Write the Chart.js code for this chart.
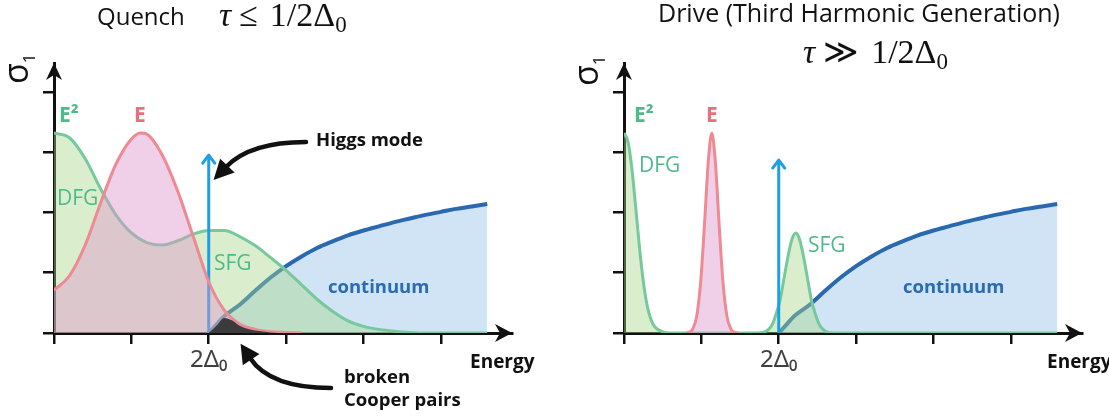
<!DOCTYPE html>
<html>
<head>
<meta charset="utf-8">
<script src="https://cdn.jsdelivr.net/npm/chart.js@4.4.1/dist/chart.umd.min.js"></script>
<style>
  html, body { margin: 0; padding: 0; background: #fff; }
  #wrap { position: relative; width: 1109px; height: 417px; }
  canvas { position: absolute; top: 0; }
</style>
</head>
<body>
<div id="wrap">
  <canvas id="quench" width="555" height="417" style="left:0"></canvas>
  <canvas id="drive" width="554" height="417" style="left:555px"></canvas>
</div>
<script>
// energy in units of Δ0 (2Δ0 = 2), σ1 in arbitrary units
const X_MAX = 5.92;
const Y_MAX = 4.48;
const GAP = 2;

// quasiparticle continuum above the gap (same in both panels)
const continuumX = [2.0, 2.1, 2.2, 2.4, 2.6, 2.8, 3.0, 3.2, 3.4, 3.6, 3.8, 4.0, 4.2, 4.4, 4.6, 4.8, 5.0, 5.2, 5.4, 5.6];
const continuumY = [0, 0.14, 0.28, 0.47, 0.7, 0.92, 1.11, 1.27, 1.41, 1.52, 1.62, 1.7, 1.77, 1.84, 1.9, 1.96, 2.01, 2.06, 2.1, 2.14];

// quench: broad pump spectrum E and its square E²
const quenchEX = [0, 0.2, 0.4, 0.6, 0.8, 1.0, 1.12, 1.2, 1.4, 1.6, 1.8, 2.0, 2.2, 2.4, 2.6, 2.8, 3.0, 3.2];
const quenchEY = [0.71, 0.95, 1.45, 2.15, 2.8, 3.22, 3.32, 3.3, 2.95, 2.35, 1.6, 0.85, 0.38, 0.15, 0.06, 0.02, 0.01, 0];
const quenchE2X = [0, 0.2, 0.4, 0.6, 0.8, 1.0, 1.2, 1.4, 1.6, 1.8, 2.0, 2.2, 2.4, 2.6, 2.8, 3.0, 3.2, 3.4, 3.6, 3.8, 4.0, 4.2, 4.4, 4.6, 4.8, 5.2, 5.6];
const quenchE2Y = [3.32, 3.24, 2.9, 2.4, 1.96, 1.66, 1.5, 1.46, 1.53, 1.64, 1.7, 1.7, 1.6, 1.45, 1.25, 1.04, 0.8, 0.56, 0.36, 0.2, 0.11, 0.06, 0.03, 0.01, 0, 0, 0];
// broken Cooper pairs just above 2Δ0
const pairsX = [2.0, 2.1, 2.2, 2.3, 2.4, 2.5, 2.6, 2.8, 3.0];
const pairsY = [0, 0.12, 0.25, 0.21, 0.12, 0.07, 0.04, 0.01, 0];
const quenchHiggsTop = 2.95;

// drive: narrow E line and E² (DFG at 0, SFG at 2ω)
const driveEX = [0.8, 0.84, 0.89, 0.94, 0.99, 1.04, 1.09, 1.135, 1.18, 1.23, 1.28, 1.33, 1.38, 1.43, 1.48];
const driveEY = [0, 0.01, 0.07, 0.28, 0.83, 1.79, 2.85, 3.32, 2.85, 1.79, 0.83, 0.28, 0.07, 0.01, 0];
const driveE2X = [0, 0.05, 0.1, 0.15, 0.2, 0.25, 0.3, 0.35, 0.4, 0.5, 0.6, 1.7, 1.82, 1.92, 1.97, 2.02, 2.07, 2.12, 2.17, 2.22, 2.27, 2.32, 2.37, 2.42, 2.47, 2.52, 2.62, 2.72, 5.6];
const driveE2Y = [3.32, 3.18, 2.75, 2.1, 1.42, 0.85, 0.45, 0.22, 0.1, 0.02, 0, 0, 0.02, 0.15, 0.33, 0.56, 0.92, 1.27, 1.55, 1.66, 1.55, 1.27, 0.92, 0.56, 0.33, 0.15, 0.02, 0, 0];
const driveHiggsTop = 2.87;

const GREEN_LINE = '#76c99d';
const GREEN_FILL = 'rgba(168,214,135,0.42)';
const PINK_LINE = '#ee8a93';
const PINK_FILL = 'rgba(222,150,205,0.45)';
const BLUE_LINE = '#2a69b0';
const BLUE_FILL = 'rgba(170,205,237,0.55)';
const HIGGS = '#1d9fe3';
const INK = '#111';

const pts = (xs, ys) => xs.map((x, i) => ({ x: x, y: ys[i] }));

function curveSet(xs, ys, line, fill, width, order) {
  return {
    data: pts(xs, ys),
    borderColor: line,
    backgroundColor: fill,
    borderWidth: width,
    fill: 'origin',
    cubicInterpolationMode: 'monotone',
    order: order
  };
}

function higgsSet(top) {
  return {
    data: [{ x: GAP, y: 0 }, { x: GAP, y: top }],
    borderColor: HIGGS,
    borderWidth: 3,
    fill: false,
    order: 2,
    higgs: true
  };
}

// rich text: list of parts drawn one after another on a baseline
function drawParts(ctx, item) {
  let x = item.x;
  ctx.fillStyle = item.color || INK;
  ctx.textAlign = 'left';
  ctx.textBaseline = 'alphabetic';
  item.parts.forEach(p => {
    ctx.font = p.font;
    ctx.fillText(p.t, x, item.y + (p.dy || 0));
    x += ctx.measureText(p.t).width + (p.gap || 0);
  });
}

function curveArrow(ctx, a) {
  const [x0, y0] = a.from, [cx, cy] = a.ctrl, [x1, y1] = a.to;
  ctx.strokeStyle = INK;
  ctx.fillStyle = INK;
  ctx.lineWidth = 4.5;
  ctx.lineCap = 'round';
  ctx.beginPath();
  ctx.moveTo(x0, y0);
  ctx.quadraticCurveTo(cx, cy, x1, y1);
  ctx.stroke();
  let dx = x1 - cx, dy = y1 - cy;
  const len = Math.hypot(dx, dy);
  dx /= len; dy /= len;
  ctx.beginPath();
  ctx.moveTo(x1 + dx * a.head, y1 + dy * a.head);
  ctx.lineTo(x1 - dy * 10 - dx * 2, y1 + dx * 10 - dy * 2);
  ctx.lineTo(x1 + dy * 10 - dx * 2, y1 - dx * 10 - dy * 2);
  ctx.closePath();
  ctx.fill();
}

const decor = {
  id: 'decor',
  afterDraw(chart, args, opts) {
    const ctx = chart.ctx;
    const { left, right, top, bottom } = chart.chartArea;
    ctx.save();

    // axis arrowheads
    ctx.fillStyle = INK;
    ctx.beginPath();
    ctx.moveTo(right, bottom);
    ctx.lineTo(right - 17, bottom - 9);
    ctx.lineTo(right - 12, bottom);
    ctx.lineTo(right - 17, bottom + 9);
    ctx.closePath();
    ctx.fill();
    ctx.beginPath();
    ctx.moveTo(left, top);
    ctx.lineTo(left - 8, top + 17);
    ctx.lineTo(left, top + 12);
    ctx.lineTo(left + 8, top + 17);
    ctx.closePath();
    ctx.fill();

    // chevron on the Higgs line
    chart.data.datasets.forEach((ds, i) => {
      if (!ds.higgs) return;
      const tip = chart.getDatasetMeta(i).data[1];
      ctx.strokeStyle = HIGGS;
      ctx.lineWidth = 3;
      ctx.lineCap = 'round';
      ctx.lineJoin = 'round';
      ctx.beginPath();
      ctx.moveTo(tip.x - 6, tip.y + 8);
      ctx.lineTo(tip.x, tip.y);
      ctx.lineTo(tip.x + 6, tip.y + 8);
      ctx.stroke();
    });

    // y axis title σ1, rotated
    const s = opts.sigma;
    ctx.save();
    ctx.translate(s.x, s.y);
    ctx.rotate(-Math.PI / 2);
    ctx.fillStyle = INK;
    ctx.textBaseline = 'alphabetic';
    ctx.font = '34px "Open Sans"';
    ctx.fillText('σ', 0, 0);
    const w = ctx.measureText('σ').width;
    ctx.font = '17px "Open Sans"';
    ctx.fillText('1', w, 7);
    ctx.restore();

    (opts.texts || []).forEach(t => drawParts(ctx, t));
    (opts.arrows || []).forEach(a => curveArrow(ctx, a));
    ctx.restore();
  }
};

const axisGrid = { drawOnChartArea: false, drawTicks: true, tickLength: 11, color: INK, lineWidth: 2.5 };
const axisBorder = { display: true, color: INK, width: 3 };

function panel(id, datasets, axisLeft, padRight, decorOpts) {
  return new Chart(document.getElementById(id), {
    type: 'line',
    data: { datasets: datasets },
    options: {
      responsive: false,
      animation: false,
      layout: { padding: { top: 63, right: padRight, left: 0, bottom: 0 } },
      elements: { point: { radius: 0 }, line: { borderJoinStyle: 'round' } },
      plugins: {
        legend: { display: false },
        tooltip: { enabled: false },
        decor: decorOpts
      },
      scales: {
        x: {
          type: 'linear', min: 0, max: X_MAX,
          afterFit: sc => { sc.height = 84; },
          grid: axisGrid,
          border: axisBorder,
          ticks: {
            stepSize: 1, includeBounds: false, autoSkip: false, maxRotation: 0,
            padding: 2, color: '#404040',
            font: { family: '"Noto Sans", "DejaVu Sans"', size: 24 },
            callback: v => (v === GAP ? '2Δ₀' : '')
          }
        },
        y: {
          type: 'linear', min: 0, max: Y_MAX,
          afterFit: sc => { sc.width = axisLeft; },
          grid: axisGrid,
          border: axisBorder,
          ticks: { stepSize: 1, includeBounds: false, callback: () => '' }
        }
      }
    },
    plugins: [decor]
  });
}

const bold = size => 'bold ' + size + 'px "Open Sans"';
const reg = size => size + 'px "Open Sans"';
const serif = size => size + 'px "Liberation Serif", "DejaVu Serif"';
const serifIt = size => 'italic ' + size + 'px "Liberation Serif", "DejaVu Serif"';
const GREEN_TEXT = '#4dba8a';
const PINK_TEXT = '#ea6f7c';
const BLUE_TEXT = '#2a6cb3';

// τ relation to 1/2Δ0, drawn as serif math
const mathParts = rel => [
  { t: 'τ', font: serifIt(34), gap: 8 },
  { t: rel, font: serif(34), gap: 12 },
  { t: '1/2Δ', font: serif(34) },
  { t: '0', font: serif(23), dy: 6 }
];

panel('quench', [
  { data: pts(pairsX, pairsY), borderWidth: 0, backgroundColor: '#3b3b3b', fill: 'origin', cubicInterpolationMode: 'monotone', order: 0 },
  curveSet(quenchEX, quenchEY, PINK_LINE, PINK_FILL, 3, 1),
  higgsSet(quenchHiggsTop),
  curveSet(quenchE2X, quenchE2Y, GREEN_LINE, GREEN_FILL, 3, 3),
  curveSet(continuumX, continuumY, BLUE_LINE, BLUE_FILL, 4, 4)
], 54, 43, {
  sigma: { x: 28, y: 84 },
  texts: [
    { x: 97, y: 25, parts: [{ t: 'Quench', font: reg(24) }] },
    { x: 219, y: 26, parts: mathParts('≤') },
    { x: 59, y: 122, color: GREEN_TEXT, parts: [{ t: 'E²', font: bold(21) }] },
    { x: 134, y: 122, color: PINK_TEXT, parts: [{ t: 'E', font: bold(21) }] },
    { x: 57, y: 205, color: GREEN_TEXT, parts: [{ t: 'DFG', font: reg(21) }] },
    { x: 214, y: 270, color: GREEN_TEXT, parts: [{ t: 'SFG', font: reg(21) }] },
    { x: 328, y: 293, color: BLUE_TEXT, parts: [{ t: 'continuum', font: bold(18.5) }] },
    { x: 316, y: 146, parts: [{ t: 'Higgs mode', font: bold(18.5) }] },
    { x: 344, y: 383, parts: [{ t: 'broken', font: bold(18.5) }] },
    { x: 344, y: 406, parts: [{ t: 'Cooper pairs', font: bold(18.5) }] },
    { x: 470, y: 368, parts: [{ t: 'Energy', font: bold(19) }] }
  ],
  arrows: [
    { from: [306, 142], ctrl: [250, 142], to: [226, 167], head: 18 },
    { from: [331, 388], ctrl: [270, 388], to: [250, 358], head: 17 }
  ]
});

panel('drive', [
  curveSet(driveEX, driveEY, PINK_LINE, PINK_FILL, 3, 1),
  higgsSet(driveHiggsTop),
  curveSet(driveE2X, driveE2Y, GREEN_LINE, GREEN_FILL, 3, 3),
  curveSet(continuumX, continuumY, BLUE_LINE, BLUE_FILL, 4, 4)
], 69, 27, {
  sigma: { x: 43, y: 86 },
  texts: [
    { x: 103, y: 22, parts: [{ t: 'Drive (Third Harmonic Generation)', font: reg(25) }] },
    { x: 248, y: 63, parts: mathParts('≫') },
    { x: 79, y: 122, color: GREEN_TEXT, parts: [{ t: 'E²', font: bold(21) }] },
    { x: 151, y: 122, color: PINK_TEXT, parts: [{ t: 'E', font: bold(21) }] },
    { x: 84, y: 172, color: GREEN_TEXT, parts: [{ t: 'DFG', font: reg(21) }] },
    { x: 253, y: 252, color: GREEN_TEXT, parts: [{ t: 'SFG', font: reg(21) }] },
    { x: 348, y: 293, color: BLUE_TEXT, parts: [{ t: 'continuum', font: bold(18.5) }] },
    { x: 492, y: 368, parts: [{ t: 'Energy', font: bold(19) }] }
  ],
  arrows: []
});
</script>
</body>
</html>
